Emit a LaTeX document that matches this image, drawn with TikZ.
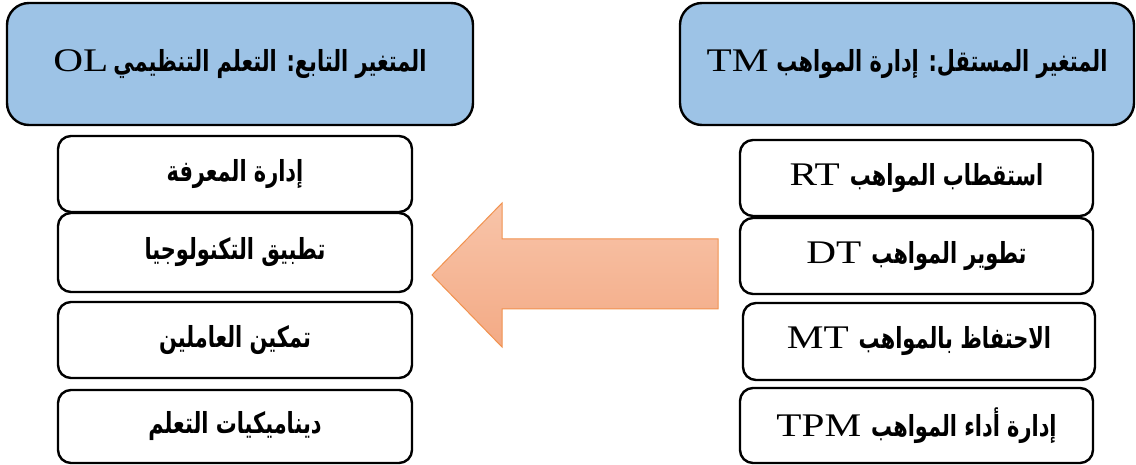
\documentclass[tikz,border=0pt]{standalone}
\usepackage{fontspec}
\usepackage{graphicx}
\setmainfont{Liberation Serif}
\newfontfamily\arabicfont[Script=Arabic]{DejaVu Sans}
\TeXXeTstate=1
\usetikzlibrary{shadings}
\definecolor{hblue}{HTML}{9DC3E6}
\definecolor{arrowtop}{HTML}{F8C4A9}
\definecolor{arrowbot}{HTML}{F3AA85}
\definecolor{arrowline}{HTML}{F1924F}
% Arabic words in bold sans, Latin abbreviations in wide serif
\newcommand\artxt[1]{\scalebox{0.72}[1]{\arabicfont\bfseries\fontsize{29}{33}\selectfont\beginR #1\endR}}
\newcommand\latxt[1]{\scalebox{1.25}[1]{\fontsize{33}{37}\selectfont #1}}
\begin{document}
\begin{tikzpicture}[x=1pt,y=-1pt,
  header/.style={draw, line width=2.4pt, rounded corners=22pt, fill=hblue,
    inner sep=0pt, minimum height=122pt},
  item/.style={draw, line width=2.4pt, rounded corners=13pt, fill=white,
    inner sep=0pt, minimum width=354pt}]
\useasboundingbox (0,0) rectangle (1136,465);

% variable headers
\node[header, minimum width=466pt] (ol) at (240,64)
  {\latxt{OL}\hspace{5pt}\artxt{المتغير التابع: التعلم التنظيمي}};
\node[header, minimum width=454pt] (tm) at (907,64)
  {\latxt{TM}\hspace{8pt}\artxt{المتغير المستقل: إدارة المواهب}};

% dimensions of organizational learning
\node[item, minimum height=76pt] (km) at (235,174) {\artxt{إدارة المعرفة}};
\node[item, minimum height=79pt] (ta) at (235,252.5) {\artxt{تطبيق التكنولوجيا}};
\node[item, minimum height=76pt] (ee) at (235,340) {\artxt{تمكين العاملين}};
\node[item, minimum height=73pt] (ld) at (235,426.5) {\artxt{ديناميكيات التعلم}};

% dimensions of talent management
\node[item, minimum width=353pt, minimum height=76pt] (rt) at (916.5,178)
  {\latxt{RT}\hspace{10pt}\artxt{استقطاب المواهب}};
\node[item, minimum width=353pt, minimum height=76pt] (dt) at (916.5,256)
  {\latxt{DT}\hspace{10pt}\artxt{تطوير المواهب}};
\node[item, minimum width=352pt, minimum height=77pt] (mt) at (919,341.5)
  {\latxt{MT}\hspace{10pt}\artxt{الاحتفاظ بالمواهب}};
\node[item, minimum width=353pt, minimum height=75pt] (tpm) at (916.5,425.5)
  {\latxt{TPM}\hspace{10pt}\artxt{إدارة أداء المواهب}};

% block arrow from talent management to organizational learning
\coordinate (tip) at (432,275);
\coordinate (tail) at (718,274);
\draw[line width=1pt, draw=arrowline, top color=arrowtop, bottom color=arrowbot]
  (tip) -- (502,203) -- (502,239) -- (tail |- 0,239) -- (tail |- 0,309)
  -- (502,309) -- (502,347) -- cycle;
\end{tikzpicture}
\end{document}
